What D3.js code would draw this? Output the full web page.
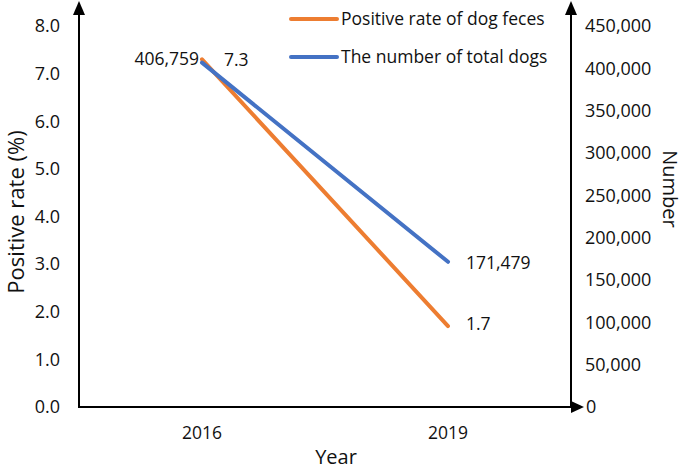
<!DOCTYPE html>
<html><head><meta charset="utf-8">
<script src="https://cdn.jsdelivr.net/npm/d3@7"></script>
<style>body{margin:0;background:#fff}svg{display:block}text{font-family:"Open Sans",sans-serif;fill:#111}</style>
</head><body>
<svg id="c" width="685" height="470"></svg>
<script>
const years = ["2016","2019"];
const positiveRate = [7.3, 1.7];
const totalDogs = [406759, 171479];
const leftTicks = [0,1,2,3,4,5,6,7,8];
const rightTicks = [0,50000,100000,150000,200000,250000,300000,350000,400000,450000];
const seriesNames = ["Positive rate of dog feces","The number of total dogs"];
const colors = ["#ED7D31","#4472C4"];

const svg = d3.select("#c");
const L = 79, R = 571, B = 407, T = 26;
const x = d3.scalePoint().domain(years).range([L, R]).padding(0.5);
const yL = d3.scaleLinear().domain([0, 8]).range([B, T]);
const yR = d3.scaleLinear().domain([0, 450000]).range([B, T]);
const fmt = d3.format(",");
const fs = 17.5, fsTick = 18;

// axes lines
const ax = svg.append("g").attr("stroke","#000").attr("stroke-width",2);
ax.append("line").attr("x1",L).attr("x2",L).attr("y1",B+1).attr("y2",12);
ax.append("line").attr("x1",R).attr("x2",R).attr("y1",B+1).attr("y2",12);
ax.append("line").attr("x1",L-1).attr("x2",R+2).attr("y1",B).attr("y2",B);
svg.append("path").attr("d",`M${L},1L${L-6},15L${L+6},15Z`).attr("fill","#000");
svg.append("path").attr("d",`M${R},1L${R-6},15L${R+6},15Z`).attr("fill","#000");
svg.append("path").attr("d",`M${R+13},${B}L${R},${B-6}L${R},${B+6}Z`).attr("fill","#000");

// left ticks
svg.append("g").selectAll("text").data(leftTicks).join("text")
  .attr("x",60).attr("y",d=>yL(d)).attr("dy","0.35em").attr("text-anchor","end")
  .attr("font-size",fsTick).text(d=>d.toFixed(1));
// right ticks
svg.append("g").selectAll("text").data(rightTicks).join("text")
  .attr("x",d=>d===0?586:585).attr("y",d=>yR(d)).attr("dy","0.35em").attr("text-anchor","start")
  .attr("font-size",fsTick).text(d=>fmt(d));
// x ticks
svg.append("g").selectAll("text").data(years).join("text")
  .attr("x",d=>x(d)).attr("y",433).attr("dy","0.35em").attr("text-anchor","middle")
  .attr("font-size",fs).text(d=>d);

// titles
svg.append("text").attr("transform","translate(24,212) rotate(-90)").attr("text-anchor","middle")
  .attr("font-size",22).text("Positive rate (%)");
svg.append("text").attr("transform","translate(663,189) rotate(90)").attr("text-anchor","middle")
  .attr("font-size",20).text("Number");
svg.append("text").attr("x",336).attr("y",464).attr("text-anchor","middle")
  .attr("font-size",20).text("Year");

// lines
const pts1 = years.map((y,i)=>[x(y), yL(positiveRate[i])]);
const pts2 = years.map((y,i)=>[x(y), yR(totalDogs[i])]);
const line = d3.line();
svg.append("path").attr("d",line(pts1)).attr("fill","none").attr("stroke",colors[0]).attr("stroke-width",4).attr("stroke-linecap","round");
svg.append("path").attr("d",line(pts2)).attr("fill","none").attr("stroke",colors[1]).attr("stroke-width",4).attr("stroke-linecap","round");

// data labels
svg.append("text").attr("x",pts2[0][0]-3).attr("y",59).attr("dy","0.35em").attr("text-anchor","end").attr("font-size",fs).text(fmt(totalDogs[0]));
svg.append("text").attr("x",224).attr("y",60).attr("dy","0.35em").attr("font-size",fs).text(positiveRate[0].toFixed(1));
svg.append("text").attr("x",466).attr("y",pts2[1][1]+1).attr("dy","0.35em").attr("font-size",fs).text(fmt(totalDogs[1]));
svg.append("text").attr("x",466).attr("y",pts1[1][1]-2).attr("dy","0.35em").attr("font-size",fs).text(positiveRate[1].toFixed(1));

// legend
const lg = svg.append("g");
seriesNames.forEach((n,i)=>{
  const yy = 19 + i*38;
  lg.append("line").attr("x1",291).attr("x2",337).attr("y1",yy).attr("y2",yy).attr("stroke",colors[i]).attr("stroke-width",4).attr("stroke-linecap","round");
  lg.append("text").attr("x",341).attr("y",yy).attr("dy","0.35em").attr("font-size",fs).text(n);
});
</script>
</body></html>
